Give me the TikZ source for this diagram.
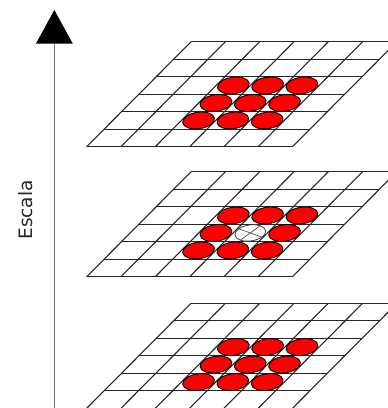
\documentclass[tikz,border=0pt]{standalone}
\usepackage{fontspec}
\usetikzlibrary{shapes.geometric}
\newfontfamily\labelfont{DejaVu Sans}
\begin{document}
\begin{tikzpicture}[x=1pt,y=-1pt,
  gridline/.style={draw=black!85, line width=1.1pt},
  blob/.style={ellipse, fill=red, draw=black, line width=0.9pt, inner sep=0pt,
               minimum width=32pt, minimum height=16.5pt, rotate=8},
  hole/.style={ellipse, fill=white, draw=black!75, line width=0.8pt, inner sep=0pt,
               minimum width=31pt, minimum height=16pt, rotate=8},
  axisline/.style={draw=black!55, line width=1pt},
  axislabel/.style={rotate=90, font=\labelfont\fontsize{18.5}{20}\selectfont, text=black!85}]
\useasboundingbox (0,0) rectangle (388,408);
\clip (0,0) rectangle (388,408);
\fill[white] (0,0) rectangle (388,408);

% axis
\coordinate (axbot) at (54.3,410);
\coordinate (axtop) at (54.3,43);
\coordinate (tipL) at (36,43.5);
\coordinate (tipR) at (72.7,43.5);
\coordinate (tip) at (54.3,10);
\draw[axisline] (axbot) -- (axtop);
\fill[black] (tipL) -- (tipR) -- (tip) -- cycle;
\node[axislabel] (lab) at (26,210) {Escala};

% layers
\foreach \yb/\nm in {146.7/top, 276.7/mid, 408.3/bot}{
  \begin{scope}[shift={(86.7,\yb)}, x={(34.3pt,0pt)}, y={(17.4pt,17.5pt)}]
    \foreach \k in {0,...,6}{
      \draw[gridline] (\k,0) -- (\k,6);
      \draw[gridline] (0,\k) -- (6,\k);
    }
    \foreach \c in {2.5,3.5,4.5}{
      \foreach \r in {1.5,2.5,3.5}{
        \ifnum\pdfstrcmp{\nm\c\r}{mid3.52.5}=0
          \node[hole] (\nm-c) at (\c,\r) {};
          \draw[black!75, line width=0.6pt] (\nm-c.north west) -- (\nm-c.south east)
                                            (\nm-c.south west) -- (\nm-c.north east);
        \else
          \node[blob] (\nm-\c-\r) at (\c,\r) {};
        \fi
      }
    }
  \end{scope}
}
\end{tikzpicture}
\end{document}
